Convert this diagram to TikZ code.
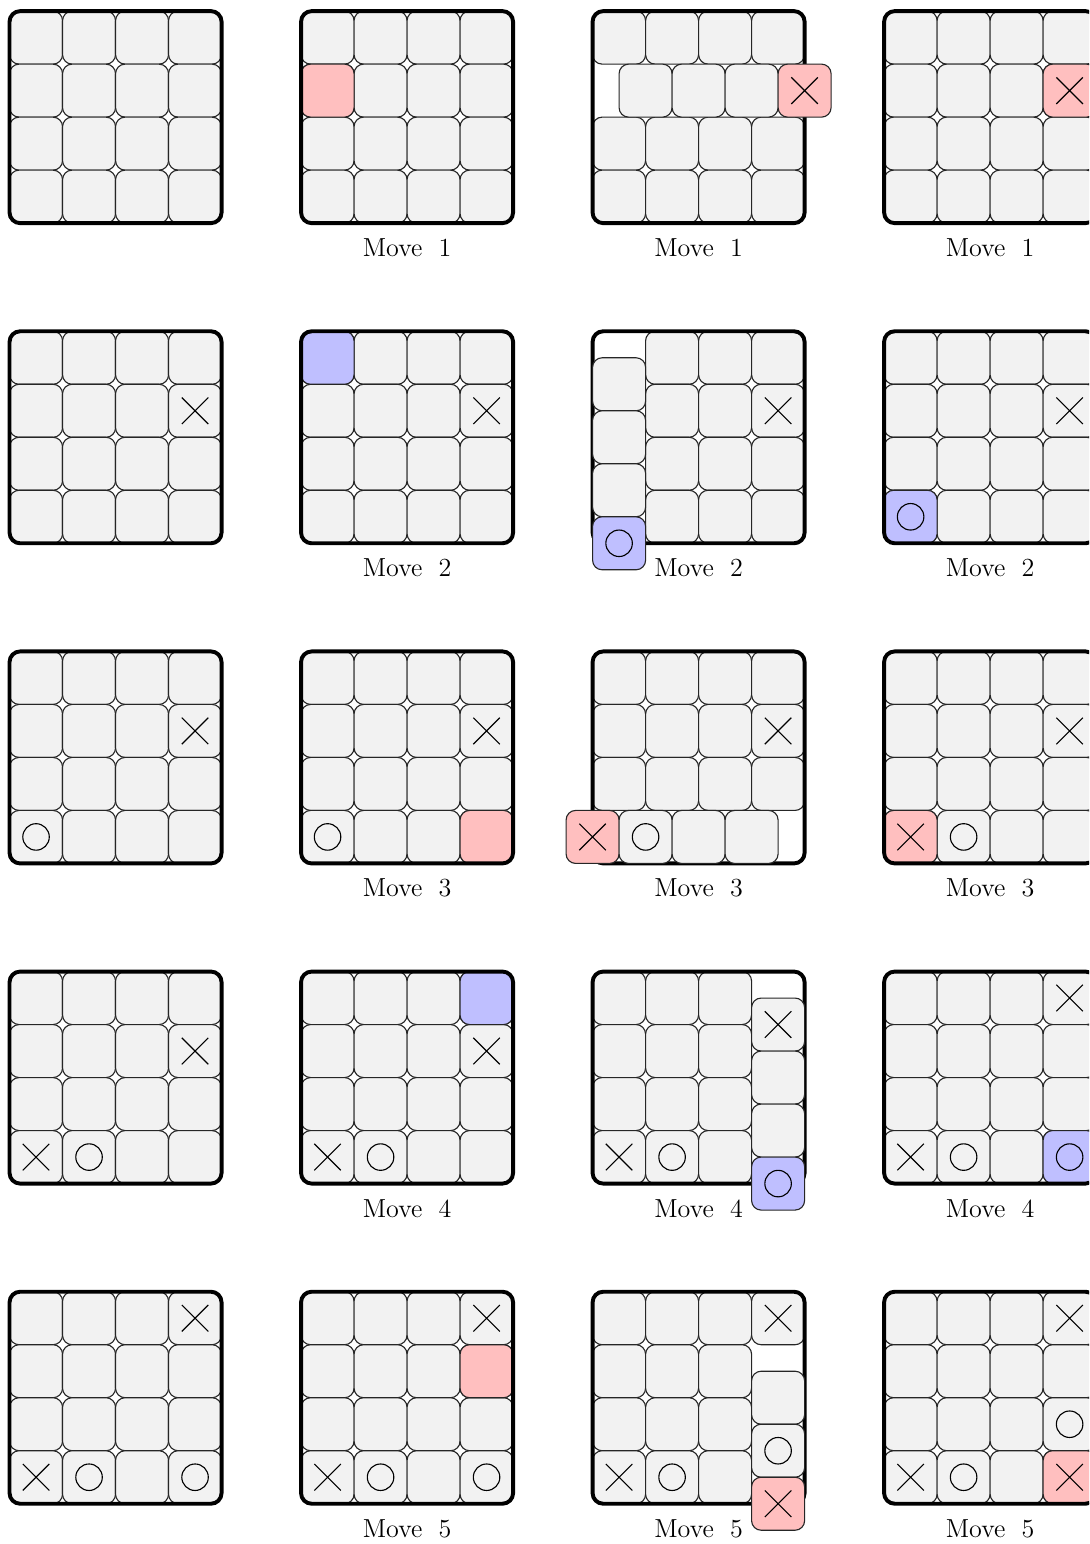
\documentclass[tikz,border=0pt]{standalone}
\usepackage{xcolor}
\usepackage{tikz}
\usetikzlibrary{positioning}
\definecolor{qxgray}{HTML}{F2F2F2}
\definecolor{qxred}{HTML}{FFBFBF}
\definecolor{qxblue}{HTML}{BFBFFF}

\tikzset{
  qxcell/.style={draw=black!85,line width=0.6pt,fill=qxgray,rounded corners=1.8mm,minimum size=1cm,inner sep=0pt,outer sep=0pt},
  qxframe/.style={draw,line width=2.1pt,rounded corners=2mm,minimum size=4cm,inner sep=0pt,outer sep=0pt},
  qxmark/.style={line width=0.6pt},
  qxlabel/.style={inner sep=0pt,font=\fontsize{14}{16}\selectfont},
}

% one cube, board coordinates (y runs down)
\newcommand{\qxcube}[4][qxgray]{%
  \node[qxcell,fill=#1] (#2) at (#3+0.5,-#4-0.5) {};}
\newcommand{\qxX}[1]{\draw[qxmark] (#1.center) +(-.25,-.25) -- +(.25,.25) +(-.25,.25) -- +(.25,-.25);}
\newcommand{\qxO}[1]{\draw[qxmark] (#1.center) circle (.25);}
% board: name, column, row, row left out, column left out, under the frame, over the frame
\newcommand{\qxboard}[7]{%
  \begin{scope}[shift={(0.18+5.5*#2,-0.21-6.04*#3)}]
    \foreach \i in {0,...,3} {\foreach \j in {0,...,3} {%
      \ifnum\j=#4\relax\else\ifnum\i=#5\relax\else\qxcube{#1-\i-\j}{\i}{\j}\fi\fi}}
    #6
    \node[qxframe] (#1) at (2,-2) {};
    #7
  \end{scope}}

\begin{document}
\begin{tikzpicture}
  \useasboundingbox (0,0) rectangle (20.55,-29.13);
  \clip (0,0) rectangle (20.55,-29.13);
  % move 1
  \qxboard{b00}{0}{0}{-1}{-1}{}{}
  \qxboard{b01}{1}{0}{-1}{-1}{\qxcube[qxred]{b01-h}{0}{1}}{}
  \qxboard{b02}{2}{0}{1}{-1}{}{%
    \qxcube{b02-s0}{0.5}{1} \qxcube{b02-s1}{1.5}{1} \qxcube{b02-s2}{2.5}{1}
    \qxcube[qxred]{b02-s3}{3.5}{1} \qxX{b02-s3}}
  \qxboard{b03}{3}{0}{-1}{-1}{\qxcube[qxred]{b03-h}{3}{1} \qxX{b03-h}}{}
  % move 2
  \qxboard{b10}{0}{1}{-1}{-1}{\qxX{b10-3-1}}{}
  \qxboard{b11}{1}{1}{-1}{-1}{\qxcube[qxblue]{b11-h}{0}{0} \qxX{b11-3-1}}{}
  \qxboard{b12}{2}{1}{-1}{0}{\qxX{b12-3-1}}{%
    \qxcube{b12-s0}{0}{0.5} \qxcube{b12-s1}{0}{1.5} \qxcube{b12-s2}{0}{2.5}
    \qxcube[qxblue]{b12-s3}{0}{3.5} \qxO{b12-s3}}
  \qxboard{b13}{3}{1}{-1}{-1}{\qxcube[qxblue]{b13-h}{0}{3} \qxO{b13-h} \qxX{b13-3-1}}{}
  % move 3
  \qxboard{b20}{0}{2}{-1}{-1}{\qxX{b20-3-1} \qxO{b20-0-3}}{}
  \qxboard{b21}{1}{2}{-1}{-1}{\qxcube[qxred]{b21-h}{3}{3} \qxX{b21-3-1} \qxO{b21-0-3}}{}
  \qxboard{b22}{2}{2}{3}{-1}{\qxX{b22-3-1}}{%
    \qxcube[qxred]{b22-s0}{-0.5}{3} \qxcube{b22-s1}{0.5}{3} \qxcube{b22-s2}{1.5}{3}
    \qxcube{b22-s3}{2.5}{3} \qxX{b22-s0} \qxO{b22-s1}}
  \qxboard{b23}{3}{2}{-1}{-1}{\qxcube[qxred]{b23-h}{0}{3} \qxX{b23-h} \qxO{b23-1-3} \qxX{b23-3-1}}{}
  % move 4
  \qxboard{b30}{0}{3}{-1}{-1}{\qxX{b30-3-1} \qxX{b30-0-3} \qxO{b30-1-3}}{}
  \qxboard{b31}{1}{3}{-1}{-1}{%
    \qxcube[qxblue]{b31-h}{3}{0} \qxX{b31-3-1} \qxX{b31-0-3} \qxO{b31-1-3}}{}
  \qxboard{b32}{2}{3}{-1}{3}{\qxX{b32-0-3} \qxO{b32-1-3}}{%
    \qxcube{b32-s0}{3}{0.5} \qxcube{b32-s1}{3}{1.5} \qxcube{b32-s2}{3}{2.5}
    \qxcube[qxblue]{b32-s3}{3}{3.5} \qxX{b32-s0} \qxO{b32-s3}}
  \qxboard{b33}{3}{3}{-1}{-1}{%
    \qxcube[qxblue]{b33-h}{3}{3} \qxO{b33-h} \qxX{b33-3-0} \qxX{b33-0-3} \qxO{b33-1-3}}{}
  % move 5
  \qxboard{b40}{0}{4}{-1}{-1}{\qxX{b40-3-0} \qxX{b40-0-3} \qxO{b40-1-3} \qxO{b40-3-3}}{}
  \qxboard{b41}{1}{4}{-1}{-1}{%
    \qxcube[qxred]{b41-h}{3}{1} \qxX{b41-3-0} \qxX{b41-0-3} \qxO{b41-1-3} \qxO{b41-3-3}}{}
  \qxboard{b42}{2}{4}{-1}{3}{\qxcube{b42-s0}{3}{0} \qxX{b42-s0} \qxX{b42-0-3} \qxO{b42-1-3}}{%
    \qxcube{b42-s1}{3}{1.5} \qxcube{b42-s2}{3}{2.5}
    \qxcube[qxred]{b42-s3}{3}{3.5} \qxO{b42-s2} \qxX{b42-s3}}
  \qxboard{b43}{3}{4}{-1}{-1}{%
    \qxcube[qxred]{b43-h}{3}{3} \qxX{b43-h} \qxX{b43-3-0} \qxO{b43-3-2}
    \qxX{b43-0-3} \qxO{b43-1-3}}{}
  % labels
  \foreach \r in {0,...,4} {\foreach \c in {1,2,3} {%
    \pgfmathtruncatemacro{\mv}{\r+1}
    \node[qxlabel,below=0.29cm of b\r\c] (lbl\r\c) {Move\hspace{0.62em}\mv};}}
\end{tikzpicture}
\end{document}
